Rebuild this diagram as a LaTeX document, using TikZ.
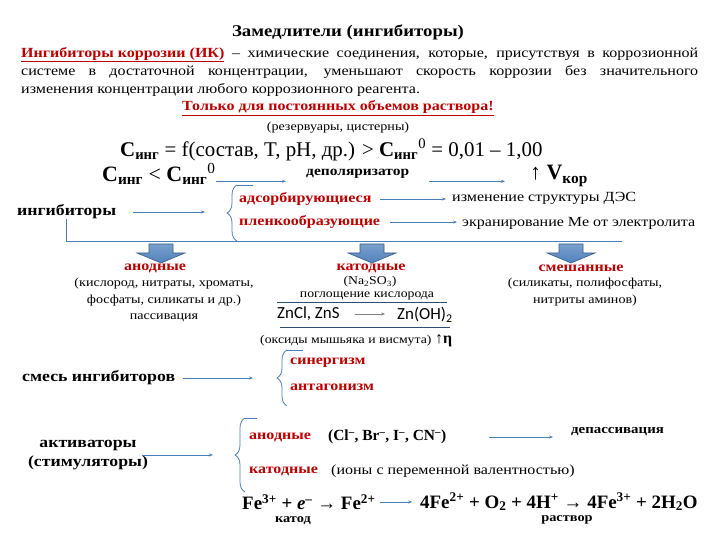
\documentclass[tikz,border=0pt]{standalone}
\usepackage{fontspec}
\setmainfont{Liberation Serif}[FakeStretch=1.15]
\newfontfamily\plainserif{Liberation Serif}
\newfontfamily\calibri{Carlito}
\usetikzlibrary{arrows.meta,decorations.pathreplacing}
\definecolor{darkred}{HTML}{C00000}
\definecolor{linkblue}{HTML}{4A7EBB}
\definecolor{arrowblue}{HTML}{4F81BD}
\definecolor{arrowedge}{HTML}{385D8A}
\newcommand\Cing{\textbf{C}\textsubscript{\textbf{инг}}}
\tikzset{
conn/.style={draw=linkblue, line width=0.8bp, -{Stealth[length=4bp,width=3bp]}},
rule/.style={draw=linkblue!60!black, line width=0.7bp},
txt/.style={inner sep=0pt, anchor=west},
small/.style={inner sep=0pt, font=\fontsize{12.3}{16.5}\selectfont},
body/.style={txt, font=\fontsize{14}{18}\selectfont},
head/.style={txt, font=\fontsize{15.5}{20}\selectfont\bfseries},
big/.style={txt, font=\plainserif\fontsize{21}{24}\selectfont},
formula/.style={txt, font=\plainserif\fontsize{19}{21}\selectfont\bfseries},
redlab/.style={inner sep=0pt, anchor=west, text=darkred, font=\fontsize{14}{16}\selectfont\bfseries},
curly/.style={draw=linkblue, line width=0.8bp, decorate, decoration={brace, amplitude=10bp}},
blockdown/.pic={
  \draw[arrowedge, line width=0.6bp, top color=arrowblue!75, bottom color=arrowblue]
    (-12,0) -- (12,0) -- (12,9) -- (24,9) -- (0,19) -- (-24,9) -- (-12,9) -- cycle;
  }
}
\begin{document}
\begin{tikzpicture}[x=1bp, y=-1bp]
\useasboundingbox (0,0) rectangle (720,540);

\node[font=\fontsize{16.4}{18}\selectfont\bfseries] (title) at (348,32) {Замедлители (ингибиторы)};
\node[body, anchor=north west, text width=677bp, align=justify] (defn) at (21,47)
  {\textcolor{darkred}{\textbf{\underline{Ингибиторы коррозии (ИК)}}} – химические соединения, которые, присутствуя в коррозионной\linebreak
   системе в достаточной концентрации, уменьшают скорость коррозии без значительного\linebreak
   изменения концентрации любого коррозионного реагента.};
\node[font=\fontsize{14}{16}\selectfont\bfseries, text=darkred] (only) at (338,108) {\underline{Только для постоянных объемов раствора!}};
\node[small] (tanks) at (338,128) {(резервуары, цистерны)};

\node[big] (eq1) at (120,150) {\Cing{} = f(состав, T, pH, др.) > \Cing\textsuperscript{0} = 0,01 – 1,00};
\node[big, font=\plainserif\fontsize{22}{24}\selectfont] (eq2) at (102,174) {\Cing{} < \Cing\textsuperscript{0}};
\node[body, font=\fontsize{13.5}{15}\selectfont\bfseries] (depol) at (306,174) {деполяризатор};
\node[big, font=\plainserif\fontsize{22}{24}\selectfont] (vkor) at (530,176) {↑ \textbf{V}\textsubscript{\textbf{кор}}};
\draw[conn, shorten >=20bp] (eq2.base east) -- (eq2.base east -| depol.west);
\draw[conn, shorten <=20bp, shorten >=25bp] (depol.east |- eq2.base) -- (vkor.west |- eq2.base);

\node[head] (ingib) at (17,212) {ингибиторы};
\coordinate (b1top) at (237,185);
\coordinate (b1bot) at (237,241);
\coordinate (b1tip) at (227,213);
\draw[curly] (b1bot) -- (b1top);
\draw[draw=linkblue, line width=0.8bp] (b1top) -- ++(16,0);
\draw[conn, shorten <=17bp, shorten >=22bp] (ingib.east) -- (ingib.east -| b1tip);
\node[redlab] (adsorb) at (239,199) {адсорбирующиеся};
\node[redlab] (film) at (239,222) {пленкообразующие};
\node[body] (edl) at (452,198) {изменение структуры ДЭС};
\node[body] (screen) at (462,223) {экранирование Ме от электролита};
\draw[conn, shorten <=8bp, shorten >=6bp] (adsorb.east) -- (adsorb.east -| edl.west);
\draw[conn, shorten <=10bp, shorten >=5bp] (film.east) -- (film.east -| screen.west);
\coordinate (hend) at (622,241);
\draw[draw=linkblue, line width=0.8bp] (ingib.south) |- (hend);

\pic at (161,244) {blockdown};
\pic at (372,244) {blockdown};
\pic at (571,244) {blockdown};

\node[redlab, anchor=center] (anod) at (155,268) {анодные};
\node[small, align=center] (anodlist) at (164,300) {(кислород, нитраты, хроматы,\\ фосфаты, силикаты и др.)\\ пассивация};
\node[redlab, anchor=center] (cathod) at (371,268) {катодные};
\node[small, font=\fontsize{12}{14}\selectfont] (na2so3) at (370,282) {(Na\textsubscript{2}SO\textsubscript{3})};
\node[small, font=\fontsize{12}{14}\selectfont] (absorb) at (367,296) {поглощение кислорода};
\draw[rule] (277,302) -- (447,302);
\node[txt, font=\calibri\fontsize{17}{19}\selectfont] (zncl) at (277,314) {ZnCl, ZnS};
\node[txt, font=\calibri\fontsize{17}{19}\selectfont] (znoh) at (397,315) {Zn(OH)\textsubscript{2}};
\draw[conn, draw=gray, shorten <=15bp, shorten >=12bp] (zncl.east) -- (zncl.east -| znoh.west);
\draw[rule] (280,327) -- (450,327);
\node[small, anchor=west, font=\fontsize{12}{14}\selectfont] (oxides) at (260,341) {(оксиды мышьяка и висмута)};
\node[txt, font=\plainserif\fontsize{16}{18}\selectfont] (eta) at (435,341) {↑\textbf{η}};
\node[redlab, anchor=center] (mixed) at (581,268) {смешанные};
\node[small, align=center] (mixedlist) at (585,292) {(силикаты, полифосфаты,\\ нитриты аминов)};

\node[head] (mix) at (22,378) {смесь ингибиторов};
\coordinate (b2top) at (287,350);
\coordinate (b2bot) at (287,406);
\coordinate (b2tip) at (277,378);
\draw[curly] (b2bot) -- (b2top);
\draw[draw=linkblue, line width=0.8bp] (b2top) -- ++(16,0);
\draw[conn, shorten <=8bp, shorten >=24bp] (mix.east) -- (mix.east -| b2tip);
\node[redlab] (syn) at (290,363) {синергизм};
\node[redlab] (anta) at (290,387) {антагонизм};

\node[head, anchor=center, align=center] (activ) at (88,455) {активаторы\\(стимуляторы)};
\coordinate (b3top) at (245,418);
\coordinate (b3bot) at (245,492);
\coordinate (b3tip) at (235,455);
\draw[curly] (b3bot) -- (b3top);
\draw[draw=linkblue, line width=0.8bp] (b3top) -- ++(12,0);
\draw[conn, shorten <=-6bp, shorten >=22bp] (activ.east) -- (activ.east -| b3tip);
\node[redlab] (anact) at (249,437) {анодные};
\node[txt, font=\plainserif\fontsize{15.5}{19}\selectfont\bfseries] (halides) at (328,437) {(Cl\textsuperscript{–}, Br\textsuperscript{–}, I\textsuperscript{–}, CN\textsuperscript{–})};
\node[body, font=\fontsize{13}{15}\selectfont\bfseries] (depass) at (571,432) {депассивация};
\draw[conn, shorten <=43bp, shorten >=18bp] (halides.east) -- (halides.east -| depass.west);
\node[redlab] (catact) at (249,471) {катодные};
\node[body, font=\fontsize{14}{15}\selectfont] (ions) at (331,471) {(ионы с переменной валентностью)};

\node[formula] (fe1) at (242,502) {Fe\textsuperscript{3+} + \textit{e}\textsuperscript{–} → Fe\textsuperscript{2+}};
\node[formula] (fe2) at (420,502) {4Fe\textsuperscript{2+} + O\textsubscript{2} + 4H\textsuperscript{+} → 4Fe\textsuperscript{3+} + 2H\textsubscript{2}O};
\draw[conn, shorten <=4bp, shorten >=8bp] (fe1.east) -- (fe1.east -| fe2.west);
\node[font=\fontsize{12.5}{13}\selectfont\bfseries] (katod) at (293,521) {катод};
\node[font=\fontsize{12.5}{13}\selectfont\bfseries] (rastvor) at (567,520) {раствор};
\end{tikzpicture}
\end{document}
